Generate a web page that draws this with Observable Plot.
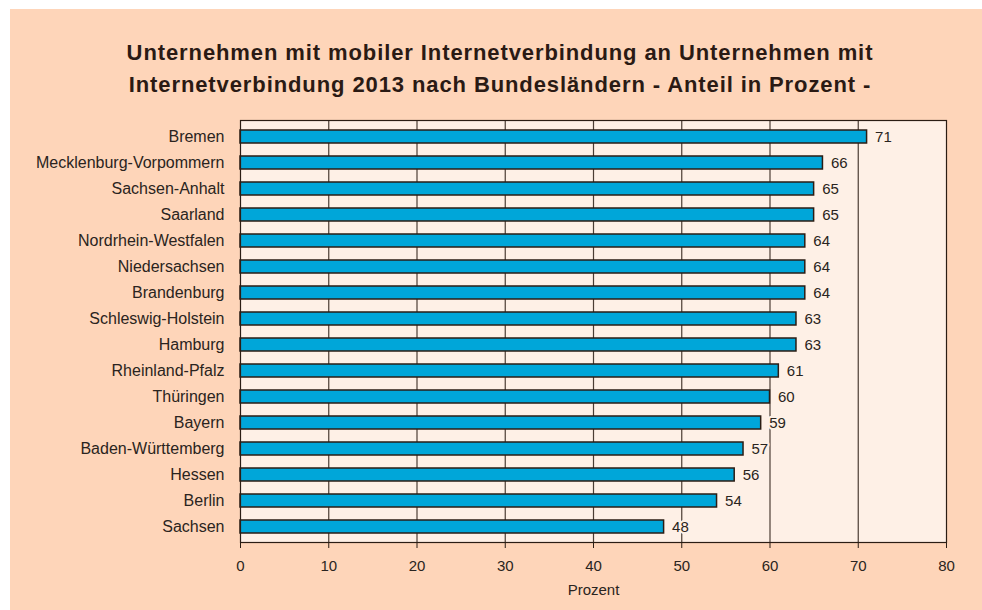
<!DOCTYPE html>
<html>
<head>
<meta charset="utf-8">
<script src="https://cdn.jsdelivr.net/npm/d3@7"></script>
<script src="https://cdn.jsdelivr.net/npm/@observablehq/plot@0.6"></script>
<style>
  html, body { margin: 0; padding: 0; background: #ffffff; overflow: hidden; }
  #panel {
    position: absolute; left: 10px; top: 9px; width: 972px; height: 601px;
    background: #fed5b9; font-family: "Liberation Sans", Arial, sans-serif;
  }
  #title {
    position: absolute; left: 0; top: 28px; width: 980px; text-align: center;
    font-weight: bold; font-size: 22px; line-height: 32px; color: #2a1a14;
    letter-spacing: 0.9px; white-space: nowrap;
  }
  #chart { position: absolute; left: 0; top: 91px; }
</style>
</head>
<body>
<div id="panel">
  <div id="title">Unternehmen mit mobiler Internetverbindung an Unternehmen mit<br>Internetverbindung 2013 nach Bundesländern - Anteil in Prozent -</div>
  <div id="chart"></div>
</div>
<script>
const states = ["Bremen", "Mecklenburg-Vorpommern", "Sachsen-Anhalt", "Saarland", "Nordrhein-Westfalen", "Niedersachsen", "Brandenburg", "Schleswig-Holstein", "Hamburg", "Rheinland-Pfalz", "Thüringen", "Bayern", "Baden-Württemberg", "Hessen", "Berlin", "Sachsen"];
const values = [71, 66, 65, 65, 64, 64, 64, 63, 63, 61, 60, 59, 57, 56, 54, 48];
const xTicks = [0, 10, 20, 30, 40, 50, 60, 70, 80];
const gridTicks = [10, 20, 30, 40, 50, 60, 70];
const xLabel = "Prozent";

const data = states.map((s, i) => ({state: s, value: values[i]}));
const dark = "#2b1d14";
const plotBg = "#fef0e6";

const chart = Plot.plot({
  width: 972,
  height: 519,
  marginLeft: 230,
  marginRight: 36,
  marginTop: 20,
  marginBottom: 77,
  style: {fontFamily: "'Liberation Sans', Arial, sans-serif", fontSize: "15px", color: "#2a2420", background: "transparent"},
  x: {domain: [0, 80], ticks: xTicks, label: null},
  y: {domain: states, paddingInner: 0.5, paddingOuter: 0.25, label: null},
  marks: [
    Plot.frame({fill: plotBg, stroke: null}),
    Plot.ruleX(gridTicks, {stroke: dark, strokeWidth: 1.2, strokeOpacity: 0.85}),
    Plot.barX(data, {y: "state", x: "value", fill: "#00a6d9", stroke: dark, strokeWidth: 1.5}),
    Plot.text(data, {y: "state", x: "value", text: d => String(d.value), textAnchor: "start", dx: 8, fill: "#2a2420", fontSize: 15, stroke: plotBg, strokeWidth: 4}),
    Plot.frame({stroke: dark, strokeWidth: 1.2}),
    Plot.axisX({ticks: xTicks, tickSize: 6, tickPadding: 12, stroke: dark, fontSize: 15, label: null}),
    Plot.axisY({tickSize: 0, tickPadding: 16, fontSize: 16, label: null}),
    Plot.text([xLabel], {frameAnchor: "bottom", dy: 48, fontSize: 15, fill: "#2a2420", lineAnchor: "middle"})
  ]
});
document.getElementById("chart").appendChild(chart);
</script>
</body>
</html>
